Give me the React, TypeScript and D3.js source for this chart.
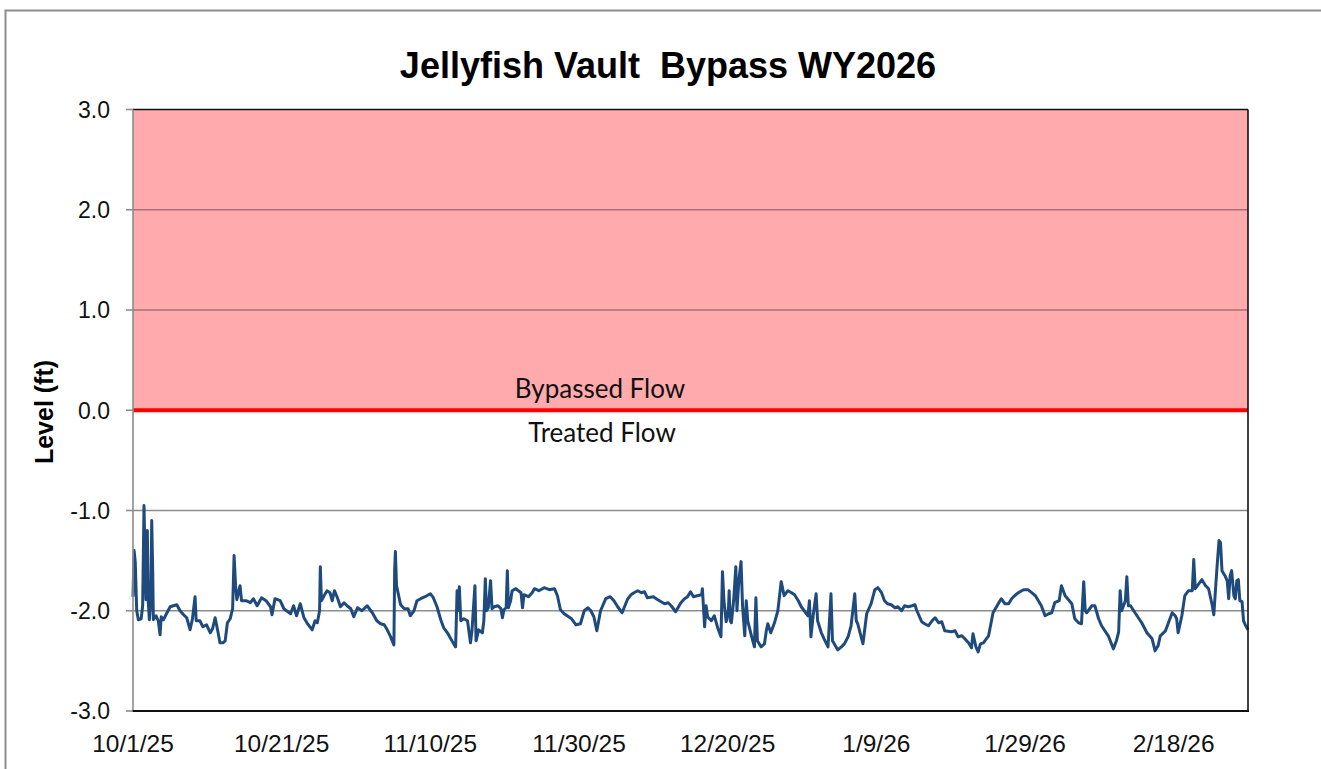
import React from "react";
import * as d3 from "d3";

const TITLE = "Jellyfish Vault  Bypass WY2026";
const Y_LABEL = "Level (ft)";
const ZONE_LABELS = ["Bypassed Flow", "Treated Flow"];
const Y_TICKS = [-3, -2, -1, 0, 1, 2, 3];
const X_TICK_DATES = ["2025-10-01", "2025-10-21", "2025-11-10", "2025-11-30", "2025-12-20", "2026-01-09", "2026-01-29", "2026-02-18"];
const START_DATE = "2025-10-01";
const END_DATE = "2026-02-28";
const THRESHOLD = 0;

// [days since 10/1/25, level ft]
const readings: [number, number][] = [
  [0.0, -1.86], [0.15, -1.4], [0.3, -1.51], [0.5, -2.0], [0.72, -2.09], [1.1, -2.08], [1.3, -1.95],
  [1.48, -0.95], [1.62, -1.5], [1.75, -1.89], [1.93, -1.2], [2.05, -1.9], [2.2, -2.09], [2.4, -1.9],
  [2.52, -1.1], [2.65, -1.6], [2.74, -2.09], [3.1, -2.05], [3.4, -2.1], [3.64, -2.24], [3.8, -2.06],
  [4.09, -2.09], [4.5, -2.03], [5.0, -1.96], [5.43, -1.95], [5.9, -1.94], [6.33, -2.0], [6.8, -2.04],
  [7.23, -2.07], [7.68, -2.19], [8.0, -2.08], [8.35, -1.86], [8.5, -2.1], [9.0, -2.1], [9.4, -2.16],
  [9.9, -2.14], [10.4, -2.22], [10.7, -2.18], [11.05, -2.07], [11.4, -2.2], [11.7, -2.32], [12.1, -2.32],
  [12.4, -2.3], [12.7, -2.12], [13.07, -2.08], [13.4, -1.98], [13.6, -1.45], [13.8, -1.75], [13.97, -1.89],
  [14.4, -1.75], [14.6, -1.9], [15.2, -1.9], [15.8, -1.92], [16.2, -1.88], [16.7, -1.95], [17.3, -1.87],
  [17.9, -1.9], [18.5, -1.96], [18.7, -2.04], [19.1, -1.88], [19.8, -1.9], [20.3, -1.98], [21.2, -2.03],
  [21.6, -1.95], [22.0, -2.05], [22.5, -1.93], [23.0, -2.07], [23.4, -2.12], [24.1, -2.19], [24.5, -2.1],
  [24.8, -2.12], [25.1, -2.0], [25.2, -1.56], [25.35, -1.9], [25.7, -1.85], [26.1, -1.8], [26.5, -1.82],
  [26.8, -1.9], [27.1, -1.8], [27.5, -1.87], [27.9, -1.96], [28.4, -1.92], [28.8, -1.95], [29.3, -1.98],
  [29.7, -2.06], [30.2, -1.97], [30.8, -2.0], [31.5, -1.95], [32.2, -2.02], [32.8, -2.1], [33.3, -2.13],
  [33.8, -2.14], [34.2, -2.19], [34.6, -2.25], [35.1, -2.34], [35.2, -1.6], [35.3, -1.41], [35.45, -1.75],
  [36.0, -1.94], [36.5, -1.98], [37.0, -1.98], [37.3, -2.05], [37.8, -2.0], [38.2, -1.9], [38.7, -1.88],
  [39.3, -1.86], [40.0, -1.83], [40.4, -1.87], [40.9, -1.96], [41.4, -2.09], [41.8, -2.17], [42.3, -2.22],
  [42.9, -2.3], [43.4, -2.36], [43.6, -1.8], [43.7, -2.0], [43.9, -1.76], [44.1, -2.1], [44.5, -2.08],
  [45.0, -2.1], [45.4, -2.32], [45.6, -2.2], [46.0, -1.75], [46.15, -2.3], [46.5, -2.19], [47.0, -2.22],
  [47.2, -2.1], [47.4, -1.68], [47.55, -2.0], [47.8, -1.97], [48.1, -1.7], [48.3, -1.98], [48.56, -1.96],
  [49.1, -1.95], [49.5, -1.98], [49.7, -2.07], [49.9, -1.99], [50.2, -1.97], [50.36, -1.6], [50.5, -1.97],
  [50.8, -1.9], [51.0, -1.8], [51.5, -1.78], [52.2, -1.82], [52.4, -1.97], [52.6, -1.84], [53.2, -1.86],
  [53.7, -1.82], [54.0, -1.78], [54.6, -1.8], [55.3, -1.77], [56.0, -1.79], [56.7, -1.78], [57.1, -1.85],
  [57.5, -1.99], [58.0, -2.03], [58.4, -2.05], [59.0, -2.08], [59.6, -2.14], [60.2, -2.13], [60.7, -2.0],
  [61.2, -1.97], [61.6, -2.0], [62.0, -2.06], [62.4, -2.2], [62.9, -2.0], [63.6, -1.88], [64.2, -1.86],
  [64.7, -1.9], [65.2, -1.96], [65.8, -2.02], [66.5, -1.89], [67.0, -1.84], [67.4, -1.82], [67.9, -1.8],
  [68.4, -1.82], [68.8, -1.81], [69.2, -1.87], [70.0, -1.86], [70.6, -1.89], [71.5, -1.93], [72.0, -1.92],
  [72.4, -1.95], [73.0, -2.01], [73.7, -1.92], [74.2, -1.88], [74.6, -1.86], [75.0, -1.81], [75.4, -1.86],
  [75.9, -1.85], [76.5, -1.84], [76.6, -1.78], [76.9, -2.16], [77.1, -1.95], [77.3, -2.06], [77.8, -2.1],
  [78.2, -2.05], [78.7, -2.18], [79.1, -2.26], [79.3, -1.61], [79.5, -1.9], [79.8, -2.11], [80.1, -2.0],
  [80.2, -1.8], [80.35, -2.1], [80.5, -2.12], [80.8, -1.9], [81.1, -1.56], [81.25, -2.0], [81.5, -1.7],
  [81.8, -1.51], [82.0, -1.95], [82.3, -2.25], [82.5, -1.9], [82.7, -2.1], [83.2, -2.25], [83.6, -2.36],
  [83.8, -1.87], [84.0, -2.3], [84.5, -2.36], [84.95, -2.33], [85.2, -2.2], [85.4, -2.13], [85.8, -2.22],
  [86.3, -2.12], [86.75, -2.0], [87.2, -1.71], [87.6, -1.85], [88.1, -1.8], [88.6, -1.82], [89.0, -1.84],
  [89.5, -1.9], [89.9, -1.96], [90.3, -2.0], [90.8, -2.05], [91.0, -1.9], [91.2, -2.26], [91.5, -2.05],
  [91.9, -1.83], [92.1, -2.1], [92.6, -2.22], [93.1, -2.3], [93.5, -2.36], [93.9, -1.83], [94.1, -2.3],
  [94.8, -2.39], [95.3, -2.36], [95.7, -2.33], [96.2, -2.26], [96.6, -2.15], [97.1, -1.83], [97.3, -2.1],
  [97.5, -2.13], [98.2, -2.33], [98.7, -2.03], [99.3, -1.93], [99.8, -1.79], [100.2, -1.77], [100.7, -1.82],
  [101.1, -1.9], [101.5, -1.93], [102.0, -1.94], [102.5, -1.97], [102.9, -1.96], [103.4, -2.0], [103.8, -1.95],
  [104.3, -1.96], [104.8, -1.95], [105.2, -1.94], [105.4, -1.99], [106.1, -2.11], [106.5, -2.13], [107.0, -2.15],
  [107.5, -2.1], [107.9, -2.07], [108.4, -2.12], [108.8, -2.11], [109.2, -2.2], [110.1, -2.21], [110.6, -2.2],
  [111.0, -2.26], [111.5, -2.25], [111.9, -2.28], [112.4, -2.32], [112.8, -2.37], [113.0, -2.23], [113.4, -2.36],
  [113.7, -2.41], [114.0, -2.33], [114.4, -2.32], [115.1, -2.25], [115.7, -2.02], [116.4, -1.93], [116.8, -1.88],
  [117.3, -1.93], [117.8, -1.93], [118.2, -1.88], [118.6, -1.85], [119.1, -1.82], [119.8, -1.79], [120.4, -1.79],
  [120.9, -1.82], [121.4, -1.85], [122.2, -1.95], [122.7, -2.05], [123.2, -2.03], [123.6, -2.02], [124.0, -1.92],
  [124.6, -1.9], [124.9, -1.75], [125.4, -1.85], [126.3, -1.93], [126.7, -2.08], [127.2, -2.12], [127.6, -2.13],
  [127.9, -1.71], [128.1, -2.0], [128.3, -2.02], [129.0, -1.95], [129.4, -1.95], [129.9, -2.08], [130.3, -2.15],
  [131.2, -2.25], [131.9, -2.38], [132.3, -2.3], [132.6, -2.21], [132.8, -1.8], [133.0, -2.0], [133.5, -1.9],
  [133.7, -1.66], [133.9, -1.95], [134.2, -1.95], [134.8, -2.02], [135.7, -2.12], [136.4, -2.22], [137.1, -2.28],
  [137.5, -2.4], [137.9, -2.35], [138.2, -2.25], [138.9, -2.2], [139.8, -2.02], [140.2, -2.05], [140.4, -2.08],
  [140.6, -2.22], [141.1, -2.05], [141.5, -1.85], [142.0, -1.8], [142.5, -1.8], [142.7, -1.49], [142.9, -1.78],
  [143.8, -1.69], [144.3, -1.75], [144.7, -1.78], [145.2, -1.95], [145.4, -2.04], [145.8, -1.6], [146.1, -1.3],
  [146.3, -1.32], [146.5, -1.6], [146.9, -1.65], [147.2, -1.7], [147.4, -1.88], [147.6, -1.65], [147.8, -1.6],
  [148.1, -1.85], [148.3, -1.88], [148.5, -1.7], [148.7, -1.69], [148.9, -1.9], [149.2, -1.91], [149.4, -2.1],
  [149.7, -2.15], [150.0, -2.19],
];

const W = 1321;
const H = 769;
const M = { left: 133, right: 1248, top: 109.5, bottom: 711 };
const AXIS_FONT = "'Liberation Sans', Arial, sans-serif";

export default function App() {
  const parse = d3.timeParse("%Y-%m-%d");
  const start = parse(START_DATE)!;
  const end = parse(END_DATE)!;
  const x = d3.scaleTime().domain([start, end]).range([M.left, M.right]);
  const y = d3.scaleLinear().domain([-3, 3]).range([M.bottom, M.top]);
  const fmt = d3.timeFormat("%-m/%-d/%y");
  const fmtY = (v: number) => v.toFixed(1);

  const pts = readings.map(([d, v]) => ({ date: new Date(start.getTime() + d * 864e5), v }));
  const line = d3
    .line<{ date: Date; v: number }>()
    .x((p) => x(p.date))
    .y((p) => y(p.v));

  const xTicks = X_TICK_DATES.map((s) => parse(s)!);

  return (
    <svg
      width={W}
      height={H}
      style={{ position: "absolute", left: 0, top: 0, background: "#fff" }}
    >
      {/* outer chart border */}
      <rect x={5.5} y={10.5} width={W + 10} height={H + 10} fill="none" stroke="#8c8c8c" strokeWidth={2} />

      <text
        x={668}
        y={78}
        textAnchor="middle"
        fontFamily={AXIS_FONT}
        fontWeight="bold"
        fontSize={36}
        fill="#000"
        style={{ whiteSpace: "pre" }}
        xmlSpace="preserve"
      >
        {TITLE}
      </text>

      {/* bypass zone */}
      <rect
        x={M.left}
        y={y(3)}
        width={M.right - M.left}
        height={y(THRESHOLD) - y(3)}
        fill="#FFAAAD"
      />

      {/* gridlines */}
      {Y_TICKS.filter((t) => t !== -3 && t !== 3 && t !== 0).map((t) => (
        <line
          key={t}
          x1={M.left}
          x2={M.right}
          y1={y(t)}
          y2={y(t)}
          stroke={t > 0 ? "#A77173" : "#8c8c8c"}
          strokeWidth={1.6}
        />
      ))}

      {/* threshold line */}
      <line x1={M.left} x2={M.right} y1={y(THRESHOLD)} y2={y(THRESHOLD)} stroke="#FF0000" strokeWidth={4} />

      <text x={600} y={398} textAnchor="middle" fontFamily="Lato, 'Open Sans', sans-serif" fontSize={26} fill="#111">
        {ZONE_LABELS[0]}
      </text>
      <text x={602} y={442} textAnchor="middle" fontFamily="Lato, 'Open Sans', sans-serif" fontSize={26} fill="#111">
        {ZONE_LABELS[1]}
      </text>

      {/* data */}
      <path d={line(pts) ?? ""} fill="none" stroke="#1F4A7E" strokeWidth={3} strokeLinejoin="round" />

      {/* plot frame */}
      <line x1={M.left} x2={M.right} y1={M.top} y2={M.top} stroke="#111" strokeWidth={1.6} />
      <line x1={M.right} x2={M.right} y1={M.top} y2={M.bottom} stroke="#111" strokeWidth={1.6} />
      <line x1={M.left} x2={M.left} y1={M.top} y2={M.bottom} stroke="#8c8c8c" strokeWidth={1.6} />
      <line x1={M.left - 1} x2={M.right + 1} y1={M.bottom} y2={M.bottom} stroke="#111" strokeWidth={2} />

      {/* y axis ticks & labels */}
      {Y_TICKS.map((t) => (
        <g key={t}>
          <line x1={M.left - 7} x2={M.left} y1={y(t)} y2={y(t)} stroke="#8c8c8c" strokeWidth={1.6} />
          <text
            x={110}
            y={y(t) + 8.3}
            textAnchor="end"
            fontFamily={AXIS_FONT}
            fontSize={23}
            fill="#111"
          >
            {fmtY(t)}
          </text>
        </g>
      ))}

      {/* x axis labels */}
      {xTicks.map((d) => (
        <text
          key={d.getTime()}
          x={x(d)}
          y={752}
          textAnchor="middle"
          fontFamily={AXIS_FONT}
          fontSize={24.5}
          fill="#111"
        >
          {fmt(d)}
        </text>
      ))}

      <text
        transform="translate(53,412) rotate(-90)"
        textAnchor="middle"
        fontFamily={AXIS_FONT}
        fontWeight="bold"
        fontSize={25}
        fill="#000"
      >
        {Y_LABEL}
      </text>
    </svg>
  );
}
